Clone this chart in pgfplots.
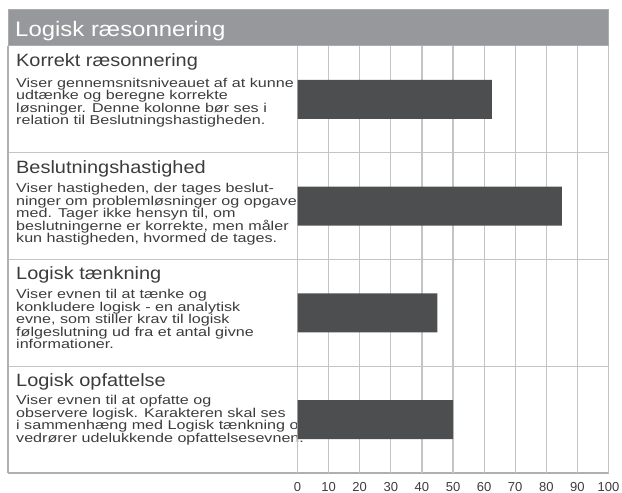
\documentclass[border=0pt]{standalone}
\usepackage{pgfplots}
\pgfplotsset{compat=1.18}
\usepackage{pgfplotstable}
\usepackage{fontspec}
\setmainfont{Liberation Sans}
\definecolor{barcol}{HTML}{4D4E50}
\definecolor{titlebar}{HTML}{97989B}
\definecolor{titleborder}{HTML}{ABACAF}
\definecolor{gridlight}{HTML}{C4C4C4}
\definecolor{griddark}{HTML}{9A9A9A}
\definecolor{txt}{HTML}{3C3C3C}
\pgfplotstableread{
row value
0 62.5
1 85
2 45
3 50
}\datatable
\newcommand{\desc}[1]{\scalebox{1.26}[1]{\vtop{\baselineskip=12.5pt\lineskiplimit=-10pt#1}}}
\newcommand{\head}[1]{\scalebox{1.12}[1]{#1}}
\begin{document}
\begin{tikzpicture}[x=1pt,y=1pt]
\useasboundingbox (0,0) rectangle (622,493);
% title bar
\fill[titlebar] (8,447) rectangle (608.5,483);
\draw[titleborder,line width=1pt] (8,447) rectangle (608.5,483);
\node[anchor=base west,inner sep=0,text=white,font=\fontsize{21}{24}\selectfont] at (15,456.5) {\scalebox{1.14}[1]{Logisk ræsonnering}};
% left texts
\foreach \top/\hd in {447/{Korrekt ræsonnering},340/{Beslutningshastighed},234/{Logisk tænkning},127/{Logisk opfattelse}}{
  \node[anchor=base west,inner sep=0,text=txt,font=\fontsize{17.8}{19}\selectfont] at (16,\top-21) {\head{\hd}};
}
\node[anchor=base west,inner sep=0,text=txt,font=\fontsize{12.8}{12.5}\selectfont] at (16,447-41.5) {\desc{%
\hbox{Viser gennemsnitsniveauet af at kunne}\hbox{udtænke og beregne korrekte}\hbox{løsninger. Denne kolonne bør ses i}\hbox{relation til Beslutningshastigheden.}}};
\node[anchor=base west,inner sep=0,text=txt,font=\fontsize{12.8}{12.5}\selectfont] at (16,340-40) {\desc{%
\hbox{Viser hastigheden, der tages beslut-}\hbox{ninger om problemløsninger og opgaver}\hbox{med. Tager ikke hensyn til, om}\hbox{beslutningerne er korrekte, men måler}\hbox{kun hastigheden, hvormed de tages.}}};
\node[anchor=base west,inner sep=0,text=txt,font=\fontsize{12.8}{12.5}\selectfont] at (16,234-40) {\desc{%
\hbox{Viser evnen til at tænke og}\hbox{konkludere logisk - en analytisk}\hbox{evne, som stiller krav til logisk}\hbox{følgeslutning ud fra et antal givne}\hbox{informationer.}}};
\node[anchor=base west,inner sep=0,text=txt,font=\fontsize{12.8}{12.5}\selectfont] at (16,127-39) {\desc{%
\hbox{Viser evnen til at opfatte og}\hbox{observere logisk. Karakteren skal ses}\hbox{i sammenhæng med Logisk tænkning og}\hbox{vedrører udelukkende opfattelsesevnen.}}};
% row separators and border
\draw[gridlight,line width=1.2pt] (8,340.25) -- (608.5,340.25);
\draw[gridlight,line width=1.2pt] (8,233.5) -- (608.5,233.5);
\draw[gridlight,line width=1.2pt] (8,126.75) -- (608.5,126.75);
\draw[gridlight!90!black,line width=1.2pt] (8,20) -- (608.5,20);
\draw[gridlight!90!black,line width=1.2pt] (8,20) -- (8,447);
\begin{axis}[
  at={(297.5pt,20pt)}, anchor=south west,
  width=311pt, height=427pt, scale only axis,
  xmin=0, xmax=100, ymin=-0.5, ymax=3.5, y dir=reverse,
  xbar, bar width=39pt,
  xtick={0,10,...,100}, ytick=\empty,
  xmajorgrids, major grid style={gridlight,line width=1.2pt},
  extra x ticks={50}, extra x tick labels={},
  extra x tick style={grid style={griddark,line width=1.2pt}},
  axis line style={draw=none},
  major tick length=0pt,
  /pgf/number format/assume math mode=true,
  xticklabel style={anchor=base,inner sep=0pt,yshift=-18pt,text=txt,font=\fontsize{13}{14}\selectfont},
  clip=false,
]
\addplot[fill=barcol,draw=none] table[x=value,y=row] {\datatable};
\end{axis}
\end{tikzpicture}
\end{document}
